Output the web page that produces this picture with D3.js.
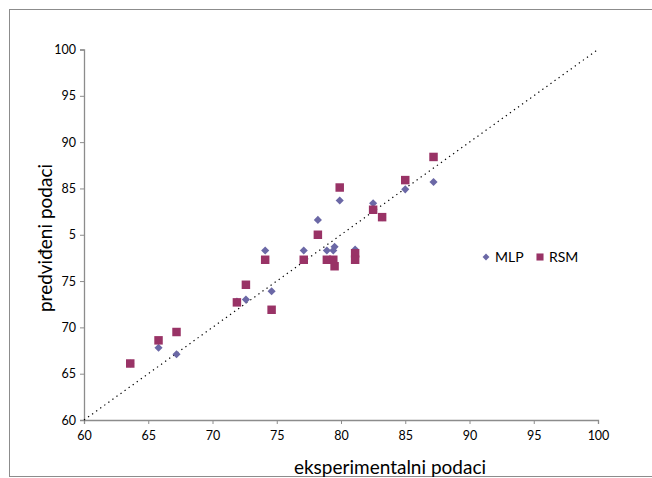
<!DOCTYPE html>
<html>
<head>
<meta charset="utf-8">
<script src="https://cdn.jsdelivr.net/npm/d3@7"></script>
<style>
  body { margin: 0; background: #fff; }
  svg { font-family: Lato, "Open Sans", sans-serif; }
</style>
</head>
<body>
<svg id="chart" width="652" height="478"></svg>
<script>
var experimental = [63.6, 65.8, 67.2, 71.9, 72.6, 74.1, 74.6, 77.1, 78.2, 78.9, 79.4, 79.5, 81.1, 81.1, 79.9, 82.5, 83.2, 85.0, 87.2];
var mlp =          [66.1, 67.8, 67.1, 72.8, 73.0, 78.3, 73.9, 78.3, 81.6, 78.3, 78.3, 78.7, 78.4, 77.5, 83.7, 83.4, 81.9, 84.9, 85.7];
var rsm =          [66.1, 68.6, 69.5, 72.7, 74.6, 77.3, 71.9, 77.3, 80.0, 77.3, 77.3, 76.6, 78.0, 77.3, 85.1, 82.7, 81.9, 85.9, 88.4];
var xTicks = [60, 65, 70, 75, 80, 85, 90, 95, 100];
var yTicks = [60, 65, 70, 75, 80, 85, 90, 95, 100];
var yTickLabels = ["60", "65", "70", "75", "5", "85", "90", "95", "100"];
var seriesNames = ["MLP", "RSM"];
var seriesColors = ["#6b68a6", "#993366"];

var svg = d3.select("#chart");

// outer frame
svg.append("rect")
    .attr("x", 9.5).attr("y", 9.5)
    .attr("width", 660).attr("height", 467)
    .attr("fill", "none")
    .attr("stroke", "#8c8c8c");

var x = d3.scaleLinear().domain([60, 100]).range([84, 598]);
var y = d3.scaleLinear().domain([60, 100]).range([420, 49.5]);

var xAxis = svg.append("g")
    .attr("transform", "translate(0,420)")
    .call(d3.axisBottom(x).tickValues(xTicks).tickSize(4).tickPadding(5));

var yAxis = svg.append("g")
    .attr("transform", "translate(84,0)")
    .call(d3.axisLeft(y).tickValues(yTicks).tickSize(4).tickPadding(4)
        .tickFormat(function(d, i) { return yTickLabels[i]; }));

[xAxis, yAxis].forEach(function(a) {
    a.select(".domain").attr("stroke", "#8c8c8c").attr("stroke-width", 1.3);
    a.selectAll(".tick line").attr("stroke", "#8c8c8c");
    a.selectAll(".tick text").attr("font-size", 12.5).attr("fill", "#000")
        .attr("font-family", "Lato, 'Open Sans', sans-serif");
});
xAxis.selectAll(".tick text").attr("dy", "0.9em");

// diagonal reference line
svg.append("line")
    .attr("x1", x(60)).attr("y1", y(60))
    .attr("x2", x(100)).attr("y2", y(100))
    .attr("stroke", "#000")
    .attr("stroke-width", 1.2)
    .attr("stroke-dasharray", "1.3,3.7");

var diamond = d3.symbol().type(d3.symbolDiamond2).size(42);
var square = d3.symbol().type(d3.symbolSquare).size(72);

svg.append("g").selectAll("path")
    .data(experimental.map(function(e, i) { return [e, mlp[i]]; }))
    .enter().append("path")
    .attr("d", diamond)
    .attr("transform", function(d) { return "translate(" + x(d[0]) + "," + y(d[1]) + ")"; })
    .attr("fill", seriesColors[0]);

svg.append("g").selectAll("path")
    .data(experimental.map(function(e, i) { return [e, rsm[i]]; }))
    .enter().append("path")
    .attr("d", square)
    .attr("transform", function(d) { return "translate(" + x(d[0]) + "," + y(d[1]) + ")"; })
    .attr("fill", seriesColors[1]);

// legend
var legend = svg.append("g").attr("transform", "translate(486,257)");
legend.append("path").attr("d", d3.symbol().type(d3.symbolDiamond2).size(30))
    .attr("fill", seriesColors[0]);
legend.append("text").attr("x", 9).attr("y", 5)
    .attr("font-size", 14).text(seriesNames[0]);
legend.append("path").attr("d", d3.symbol().type(d3.symbolSquare).size(50))
    .attr("transform", "translate(54,0)")
    .attr("fill", seriesColors[1]);
legend.append("text").attr("x", 63).attr("y", 5)
    .attr("font-size", 14).text(seriesNames[1]);

// axis titles
svg.append("text")
    .attr("x", 390).attr("y", 474)
    .attr("text-anchor", "middle")
    .attr("font-size", 19)
    .text("eksperimentalni podaci");

svg.append("text")
    .attr("transform", "translate(52,238) rotate(-90)")
    .attr("text-anchor", "middle")
    .attr("font-size", 19)
    .text("predviđeni podaci");
</script>
</body>
</html>
